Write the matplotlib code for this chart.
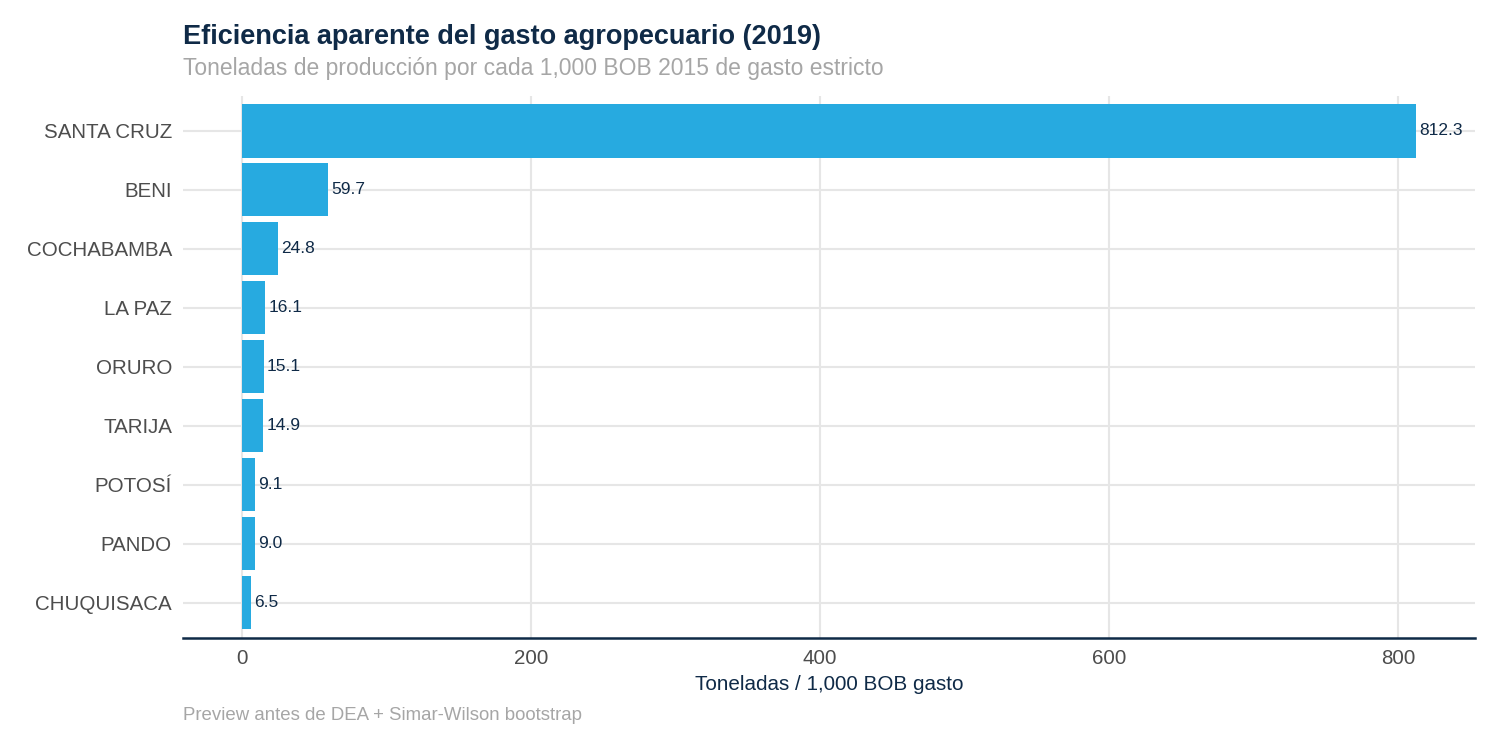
import matplotlib
matplotlib.use("Agg")
import matplotlib.pyplot as plt

plt.rcParams['font.family'] = ['Liberation Sans', 'DejaVu Sans']

departamentos = ["SANTA CRUZ", "BENI", "COCHABAMBA", "LA PAZ", "ORURO",
                 "TARIJA", "POTOSÍ", "PANDO", "CHUQUISACA"]
valores = [812.3, 59.7, 24.8, 16.1, 15.1, 14.9, 9.1, 9.0, 6.5]
xticks = [0, 200, 400, 600, 800]

title = "Eficiencia aparente del gasto agropecuario (2019)"
subtitle = "Toneladas de producción por cada 1,000 BOB 2015 de gasto estricto"
xlabel = "Toneladas / 1,000 BOB gasto"
caption = "Preview antes de DEA + Simar-Wilson bootstrap"

navy = "#0f2a47"
bar_col = "#27aae0"
grid_col = "#e6e6e6"

fig = plt.figure(figsize=(15, 7.5), dpi=100)
ax = fig.add_axes([0.122, 0.1493, 0.8613, 0.7232])

n = len(departamentos)
ypos = list(range(n, 0, -1))
ax.barh(ypos, valores, height=0.9, color=bar_col, zorder=3)
for y, v in zip(ypos, valores):
    ax.annotate(f"{v:.1f}", (v, y), xytext=(2.5, 0), textcoords="offset points",
                va="center", ha="left", fontsize=12.5, color=navy, zorder=4)

vmax = max(valores)
ax.set_xlim(-0.05 * vmax, vmax * 1.05)
ax.set_ylim(0.4, n + 0.6)
ax.set_yticks(ypos)
ax.set_yticklabels(departamentos)
ax.set_xticks(xticks)
ax.set_xticklabels([str(t) for t in xticks])

ax.grid(True, color=grid_col, linewidth=1.5, zorder=0)
ax.set_axisbelow(True)
for s in ["top", "right", "left"]:
    ax.spines[s].set_visible(False)
ax.spines["bottom"].set_color(navy)
ax.spines["bottom"].set_linewidth(1.8)
ax.tick_params(axis="both", length=0, colors="#4d4d4d", labelsize=14.8)
ax.tick_params(axis="y", pad=8)
ax.tick_params(axis="x", pad=8)

ax.set_xlabel(xlabel, fontsize=14.9, color=navy, labelpad=5)

fig.text(0.122, 0.950, title, fontsize=19.5, fontweight="bold", color=navy,
         ha="left", va="center")
fig.text(0.122, 0.909, subtitle, fontsize=16.45, color="#a6a6a6",
         ha="left", va="center")
fig.text(0.122, 0.046, caption, fontsize=13.4, color="#a6a6a6",
         ha="left", va="center")

fig.savefig("out.png", dpi=100, facecolor="white")
